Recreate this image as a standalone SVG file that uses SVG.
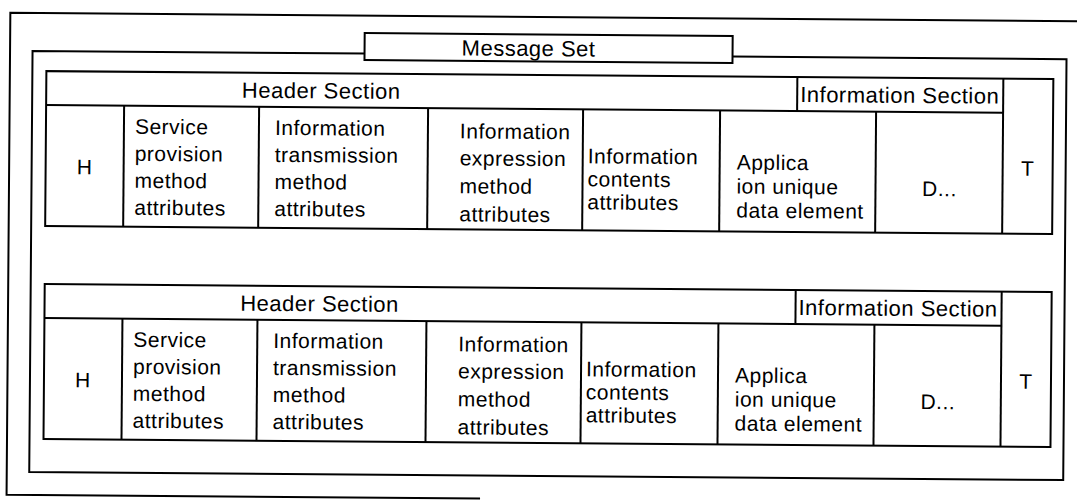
<svg xmlns="http://www.w3.org/2000/svg" width="1077" height="502" viewBox="0 0 1077 502">
  <style>
    .ln { fill: none; stroke: #000; stroke-width: 2; }
    text { font-family: "Liberation Sans", Arial, sans-serif; font-size: 21px; letter-spacing: 0.5px; fill: #000; }
    .hd { font-size: 22px; }
    .c { text-anchor: middle; }
  </style>
  <defs>
    <!-- One message block: header row, attribute cells and trailer column -->
    <g id="block">
      <rect class="ln" x="45" y="75" width="1007" height="155"/>
      <line class="ln" x1="45" y1="109" x2="1002" y2="109"/>
      <line class="ln" x1="1002" y1="75" x2="1002" y2="230"/>
      <line class="ln" x1="796" y1="75" x2="796" y2="109"/>
      <line class="ln" x1="123" y1="109" x2="123" y2="230"/>
      <line class="ln" x1="258" y1="109" x2="258" y2="230"/>
      <line class="ln" x1="427" y1="109" x2="427" y2="230"/>
      <line class="ln" x1="582" y1="109" x2="582" y2="230"/>
      <line class="ln" x1="719" y1="109" x2="719" y2="230"/>
      <line class="ln" x1="875" y1="109" x2="875" y2="230"/>
      <text class="hd c" x="320" y="100">Header Section</text>
      <text class="hd" x="799" y="100">Information Section</text>
      <text class="c" x="84" y="178">H</text>
      <text x="134" y="137">Service</text>
      <text x="134" y="164">provision</text>
      <text x="134" y="191">method</text>
      <text x="134" y="218">attributes</text>
      <text x="274" y="137">Information</text>
      <text x="274" y="164">transmission</text>
      <text x="274" y="191">method</text>
      <text x="274" y="218">attributes</text>
      <text x="459" y="139">Information</text>
      <text x="459" y="166">expression</text>
      <text x="459" y="194">method</text>
      <text x="459" y="222">attributes</text>
      <text x="587" y="163">Information</text>
      <text x="587" y="186">contents</text>
      <text x="587" y="209">attributes</text>
      <text x="736" y="168">Applica</text>
      <text x="736" y="192">ion unique</text>
      <text x="736" y="216">data element</text>
      <text class="c" x="939" y="193">D...</text>
      <text class="c" x="1027" y="172">T</text>
    </g>
  </defs>

  <rect width="1077" height="502" fill="#fff"/>

  <g transform="rotate(0.45 540 250)">
    <!-- outer border -->
    <g id="outer-frame">
      <polyline class="ln" points="1080,17 8.5,17 8.5,499 482,499"/>
    </g>

    <!-- message set frame with its title box -->
    <g id="message-set">
      <polyline class="ln" points="363,55 31,55 31,476 1065,476 1065,55 731,55"/>
      <rect class="ln" x="363" y="34.5" width="368" height="27"/>
      <text class="hd c" x="527" y="56">Message Set</text>
    </g>

    <g id="message-1">
      <use href="#block"/>
    </g>

    <g id="message-2">
      <use href="#block" transform="translate(0,213)"/>
    </g>

    <g id="connectors"/>
  </g>
</svg>
